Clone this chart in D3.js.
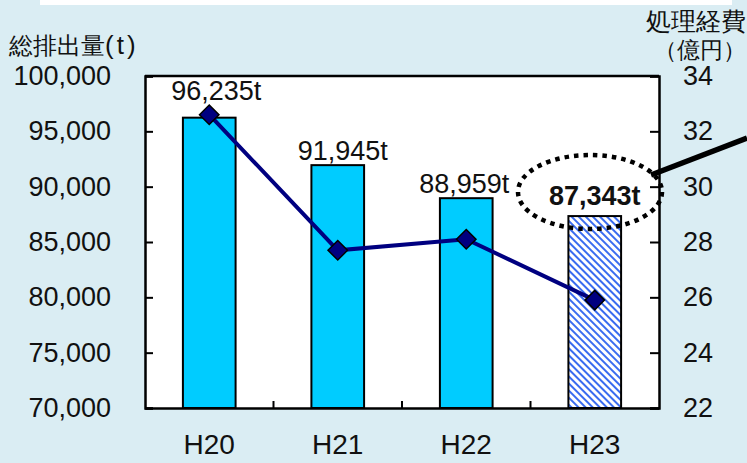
<!DOCTYPE html>
<html><head><meta charset="utf-8">
<script src="https://cdn.jsdelivr.net/npm/d3@7"></script>
<style>
html,body{margin:0;padding:0;background:#daedf3;}
svg{display:block;}
text{font-family:"Liberation Sans",Arial,sans-serif;fill:#111;}
</style></head>
<body>
<script>
const categories = ["H20","H21","H22","H23"];
const amounts = [96235, 91945, 88959, 87343];
const amountLabels = ["96,235t","91,945t","88,959t","87,343t"];
const costs = [32.6, 27.7, 28.1, 25.9];
const leftTicks = [70000,75000,80000,85000,90000,95000,100000];
const rightTicks = [22,24,26,28,30,32,34];

const W=747,H=463;
const svg=d3.select("body").append("svg").attr("width",W).attr("height",H);
const defs=svg.append("defs");
const pat=defs.append("pattern").attr("id","hatch").attr("patternUnits","userSpaceOnUse")
  .attr("width",5).attr("height",5).attr("patternTransform","rotate(-45)");
pat.append("rect").attr("width",5).attr("height",5).attr("fill","#fff");
pat.append("rect").attr("x",0).attr("width",2).attr("height",5).attr("fill","#3a6cf0");

svg.append("rect").attr("x",40).attr("y",0).attr("width",692).attr("height",5).attr("fill","#fff");

const L=145,R=659,T=76,B=408;
const x=d3.scaleBand().domain(categories).range([L,R]);
const y=d3.scaleLinear().domain([70000,100000]).range([B,T]);
const y2=d3.scaleLinear().domain([22,34]).range([B,T]);

svg.append("rect").attr("x",L).attr("y",T).attr("width",R-L).attr("height",B-T).attr("fill","#fff");

const bw=x.bandwidth()*0.41;
svg.selectAll("rect.bar").data(categories).join("rect").attr("class","bar")
  .attr("x",d=>x(d)+x.bandwidth()/2-bw/2).attr("width",bw)
  .attr("y",(d,i)=>y(amounts[i])).attr("height",(d,i)=>B-y(amounts[i]))
  .attr("fill",(d,i)=>i===3?"url(#hatch)":"#00ccff").attr("stroke","#000").attr("stroke-width",2);

// axes
const la=d3.axisLeft(y).tickValues(leftTicks).tickSize(-8).tickFormat(d3.format(",")).tickPadding(34);
const gl=svg.append("g").attr("transform",`translate(${L},0)`).call(la);
const ra=d3.axisRight(y2).tickValues(rightTicks).tickSize(-9).tickPadding(24);
const gr=svg.append("g").attr("transform",`translate(${R},0)`).call(ra);
const ba=d3.axisBottom(x).tickSize(0).tickPadding(22);
const gb=svg.append("g").attr("transform",`translate(0,${B})`).call(ba);
[gl,gr,gb].forEach(g=>{g.select(".domain").attr("stroke","#000").attr("stroke-width",2.5);
  g.selectAll(".tick line").attr("stroke","#000").attr("stroke-width",2);
  g.selectAll("text").attr("font-size",27).attr("font-family","'Liberation Sans',Arial,sans-serif").attr("fill","#111");});
gb.selectAll(".tick text").attr("dy","0.85em").attr("font-size",28);
// category separator ticks on x axis
svg.selectAll("line.sep").data(categories.slice(1)).join("line").attr("class","sep")
  .attr("x1",d=>x(d)).attr("x2",d=>x(d)).attr("y1",B).attr("y2",B-7).attr("stroke","#000").attr("stroke-width",2);
// top border
svg.append("line").attr("x1",L).attr("x2",R).attr("y1",T).attr("y2",T).attr("stroke","#000").attr("stroke-width",2.5);

// line
const cx=d=>x(d)+x.bandwidth()/2;
svg.append("path").datum(categories).attr("fill","none").attr("stroke","#000080").attr("stroke-width",4)
  .attr("d",d3.line().x(cx).y((d,i)=>y2(costs[i])));
svg.selectAll("path.mk").data(categories).join("path").attr("class","mk")
  .attr("d",d3.symbol(d3.symbolDiamond2,242)())
  .attr("transform",(d,i)=>`translate(${cx(d)},${y2(costs[i])})`)
  .attr("fill","#000080").attr("stroke","#000").attr("stroke-width",1.5);

// data labels
const lblDy=[-18,-5,-5,-11];
const lblDx=[7,5,-2,0];
svg.selectAll("text.lbl").data(categories).join("text").attr("class","lbl")
  .attr("x",(d,i)=>cx(d)+lblDx[i])
  .attr("y",(d,i)=>y(amounts[i])+lblDy[i])
  .attr("text-anchor","middle").attr("font-size",27)
  .attr("font-weight",(d,i)=>i===3?"bold":"normal")
  .text((d,i)=>amountLabels[i]);

// ellipse and pointer
svg.append("ellipse").attr("cx",590).attr("cy",192).attr("rx",72).attr("ry",37)
  .attr("fill","none").attr("stroke","#000").attr("stroke-width",4.5).attr("stroke-dasharray","4.5 5");
svg.append("line").attr("x1",651).attr("y1",175).attr("x2",747).attr("y2",138).attr("stroke","#000").attr("stroke-width",5.5);

// axis titles
const cjk="'Noto Sans CJK JP',sans-serif";
const t1=svg.append("text").attr("x",9).attr("y",54).attr("font-size",24).attr("font-family",cjk);
t1.append("tspan").text("総排出量");
t1.append("tspan").attr("font-size",26).text("(t)").attr("letter-spacing",3);
svg.append("text").attr("x",746).attr("y",30).attr("text-anchor","end").attr("font-size",25).text("処理経費")
  .attr("font-family",cjk);
svg.append("text").attr("x",700).attr("y",58).attr("text-anchor","middle").attr("font-size",23).text("（億円）")
  .attr("font-family",cjk);
</script>
</body></html>
